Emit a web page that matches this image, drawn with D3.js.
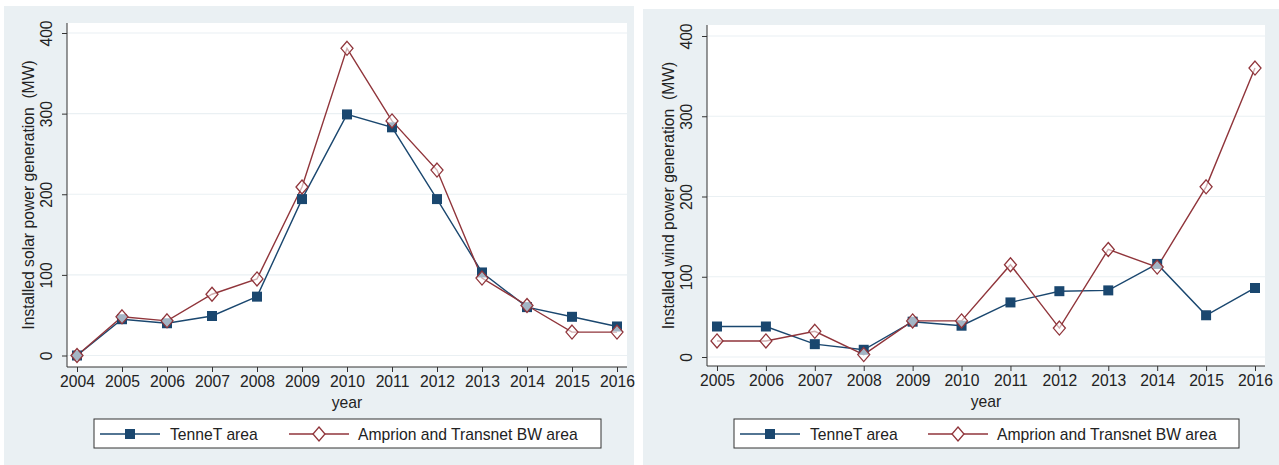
<!DOCTYPE html>
<meta charset="utf-8">
<script src="https://cdn.jsdelivr.net/npm/d3@7/dist/d3.min.js"></script>
<style>
  body { margin: 0; background: #fff; }
  text { font-family: "Liberation Sans", Arial, sans-serif; fill: #222; }
</style>
<div id="my_dataviz"></div>
<script>

// data
var solarYears = [2004, 2005, 2006, 2007, 2008, 2009, 2010, 2011, 2012, 2013, 2014, 2015, 2016];
var solarTennet = [0, 45, 40, 49, 73, 194, 299, 283, 194, 103, 60, 48, 36];
var solarAmprion = [0, 48, 43, 76, 95, 209, 381, 291, 230, 96, 62, 29, 29];

var windYears = [2005, 2006, 2007, 2008, 2009, 2010, 2011, 2012, 2013, 2014, 2015, 2016];
var windTennet = [38, 38, 16, 9, 44, 39, 68, 82, 83, 116, 52, 86];
var windAmprion = [20, 20, 32, 3, 45, 45, 115, 36, 134, 112, 212, 360];

var yTicks = [0, 100, 200, 300, 400];
var seriesNames = ["TenneT area", "Amprion and Transnet BW area"];

var navy = "#1a476f", maroon = "#90353b";
var fs = "15.7px";

var svg = d3.select("#my_dataviz")
  .append("svg")
    .attr("width", 1279)
    .attr("height", 465);

function panel(opt) {
  var g = svg.append("g");

  // grey graph region
  g.append("rect")
    .attr("x", opt.bx).attr("y", opt.by)
    .attr("width", opt.bw).attr("height", 465 - opt.by)
    .attr("fill", "#eaf0f3");

  // white plot region
  g.append("rect")
    .attr("x", opt.left).attr("y", opt.top)
    .attr("width", opt.right - opt.left).attr("height", opt.bottom - opt.top)
    .attr("fill", "#fff");

  var x = d3.scaleLinear()
    .domain(d3.extent(opt.years))
    .range([opt.left + 10, opt.right - 10]);

  var y = d3.scaleLinear()
    .domain([0, 400])
    .range([opt.y0, opt.y400]);

  // grid lines
  g.selectAll(".grid")
    .data(yTicks)
    .enter().append("line")
      .attr("x1", opt.left).attr("x2", opt.right)
      .attr("y1", function(d) { return y(d) }).attr("y2", function(d) { return y(d) })
      .attr("stroke", "#eaf0f3").attr("stroke-width", 1.2);

  // y axis
  var ya = g.append("g")
    .attr("transform", "translate(" + opt.left + ",0)")
    .call(d3.axisLeft(y).tickValues(yTicks).tickSize(5).tickSizeOuter(0));
  ya.select(".domain").attr("d", "M0," + opt.top + "V" + opt.bottom).attr("stroke", "#333");
  ya.selectAll(".tick line").attr("stroke", "#333");
  ya.selectAll(".tick text")
    .attr("x", 0).attr("dy", 0)
    .attr("transform", "translate(-15,0) rotate(-90)")
    .attr("text-anchor", "middle")
    .style("font-size", fs)
    .style("font-family", "Liberation Sans, Arial, sans-serif")
    .attr("fill", "#222");

  // x axis
  var xa = g.append("g")
    .attr("transform", "translate(0," + opt.bottom + ")")
    .call(d3.axisBottom(x).tickValues(opt.years).tickFormat(d3.format("d")).tickSize(5).tickSizeOuter(0));
  xa.select(".domain").attr("d", "M" + opt.left + ",0H" + opt.right).attr("stroke", "#333");
  xa.selectAll(".tick line").attr("stroke", "#333");
  xa.selectAll(".tick text")
    .attr("y", 9)
    .style("font-size", fs)
    .style("font-family", "Liberation Sans, Arial, sans-serif")
    .attr("fill", "#222");

  // axis titles
  g.append("text")
    .attr("x", (opt.left + opt.right) / 2).attr("y", opt.bottom + 41)
    .attr("text-anchor", "middle").style("font-size", fs)
    .text("year");
  g.append("text")
    .attr("transform", "translate(" + (opt.left - 33) + "," + ((opt.top + opt.bottom) / 2) + ") rotate(-90)")
    .attr("text-anchor", "middle").style("font-size", fs)
    .style("white-space", "pre")
    .text(opt.ytitle);

  var line = d3.line()
    .x(function(d) { return x(d[0]) })
    .y(function(d) { return y(d[1]) });

  var tData = opt.years.map(function(yr, i) { return [yr, opt.tennet[i]] });
  var aData = opt.years.map(function(yr, i) { return [yr, opt.amprion[i]] });

  g.append("path").datum(tData)
    .attr("fill", "none").attr("stroke", navy).attr("stroke-width", 1.4)
    .attr("d", line);
  g.append("path").datum(aData)
    .attr("fill", "none").attr("stroke", maroon).attr("stroke-width", 1.4)
    .attr("d", line);

  var square = d3.symbol().type(d3.symbolSquare).size(100);
  var diamond = "M0,-7L6,0L0,7L-6,0Z";

  g.selectAll(".sq").data(tData).enter().append("path")
    .attr("d", square)
    .attr("transform", function(d) { return "translate(" + x(d[0]) + "," + y(d[1]) + ")" })
    .attr("fill", navy);
  g.selectAll(".dm").data(aData).enter().append("path")
    .attr("d", diamond)
    .attr("transform", function(d) { return "translate(" + x(d[0]) + "," + y(d[1]) + ")" })
    .attr("fill", "#fff").attr("fill-opacity", 0.6)
    .attr("stroke", maroon).attr("stroke-width", 1.3);

  // legend
  var L = opt.legend;
  var lg = g.append("g");
  lg.append("rect")
    .attr("x", L.x).attr("y", 419).attr("width", L.w).attr("height", 29)
    .attr("fill", "#fff").attr("stroke", "#333").attr("stroke-width", 1);
  var ly = 434;
  lg.append("line").attr("x1", L.x + 6).attr("x2", L.x + 66).attr("y1", ly).attr("y2", ly)
    .attr("stroke", navy).attr("stroke-width", 1.4);
  lg.append("path").attr("d", square).attr("transform", "translate(" + (L.x + 36) + "," + ly + ")").attr("fill", navy);
  lg.append("text").attr("x", L.x + 76).attr("y", ly + 5.5).style("font-size", fs).text(seriesNames[0]);
  lg.append("line").attr("x1", L.x + L.a).attr("x2", L.x + L.a + 60).attr("y1", ly).attr("y2", ly)
    .attr("stroke", maroon).attr("stroke-width", 1.4);
  lg.append("path").attr("d", diamond).attr("transform", "translate(" + (L.x + L.a + 30) + "," + ly + ")")
    .attr("fill", "#fff").attr("stroke", maroon).attr("stroke-width", 1.3);
  lg.append("text").attr("x", L.x + L.a + 69).attr("y", ly + 5.5).style("font-size", fs).text(seriesNames[1]);
}

panel({
  bx: 4, by: 6, bw: 630,
  left: 67, right: 627, top: 23, bottom: 367,
  y0: 355.5, y400: 33,
  years: solarYears, tennet: solarTennet, amprion: solarAmprion,
  ytitle: "Installed solar power generation  (MW)",
  legend: {x: 94, w: 507, a: 195}
});

panel({
  bx: 643, by: 9, bw: 636,
  left: 707, right: 1265, top: 25, bottom: 366,
  y0: 357, y400: 36,
  years: windYears, tennet: windTennet, amprion: windAmprion,
  ytitle: "Installed wind power generation  (MW)",
  legend: {x: 734, w: 505, a: 194}
});

</script>
